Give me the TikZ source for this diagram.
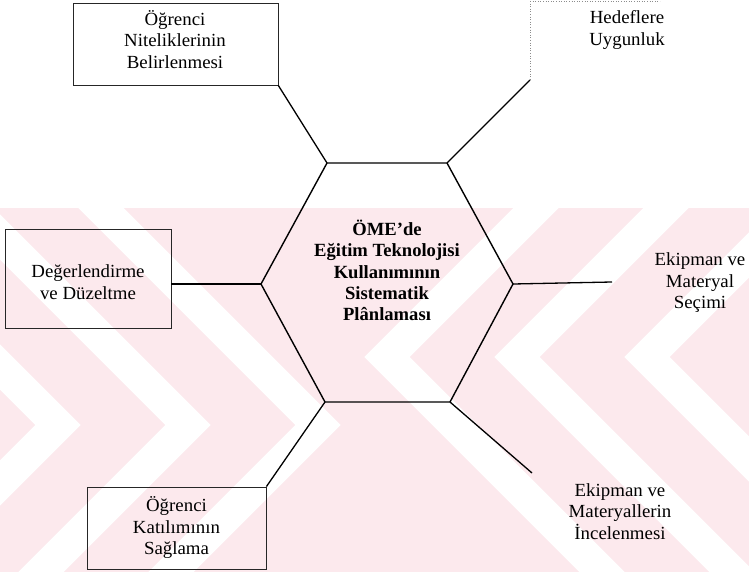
\documentclass[tikz,border=0pt]{standalone}
\usepackage{fontspec}
\setmainfont{Liberation Serif}
\newfontfamily\widerm[FakeStretch=1.02]{Liberation Serif}
\definecolor{wmpink}{RGB}{252,233,237}
\begin{document}
\begin{tikzpicture}[x=1pt,y=-1pt,
  lbl/.style={align=center,font=\widerm\fontsize{18.5}{21.5}\selectfont,inner sep=0pt},
  clbl/.style={align=center,font=\bfseries\fontsize{18.6}{21.25}\selectfont,inner sep=0pt},
  boxst/.style={draw=black!85,line width=0.8pt,inner sep=0pt},
  hexline/.style={line width=1.4pt,black,line join=miter},
  conn/.style={line width=1.3pt,black},
  faint/.style={black!45,line width=0.6pt,dotted},
  wmband/.style={white,line width=32pt,line join=miter,miter limit=10}]
\useasboundingbox (0,0) rectangle (749,572);
% watermark background: pale pink field with white chevron bands
\fill[wmpink] (0,208) rectangle (749,572);
\begin{scope}
  \clip (0,208) rectangle (749,572);
  % chevrons pointing right on the left half
  \foreach \a in {58,188,318}{
    \draw[wmband] (\a-400,25) -- (\a,425) -- (\a-400,825);
  }
  % chevrons pointing left on the right half
  \foreach \a in {387,517,647,777}{
    \draw[wmband] (\a+400,-43) -- (\a,357) -- (\a+400,757);
  }
\end{scope}

% hexagon vertices
\coordinate (hTL) at (327,163);
\coordinate (hTR) at (447,163);
\coordinate (hR)  at (513,284);
\coordinate (hBR) at (450,402);
\coordinate (hBL) at (325,402);
\coordinate (hL)  at (261,284);
\draw[hexline] (hTL) -- (hTR) -- (hR) -- (hBR) -- (hBL) -- (hL) -- cycle;
\node[clbl] (ctr) at (387,270.5) {ÖME’de\\Eğitim Teknolojisi\\Kullanımının\\Sistematik\\Plânlaması};

% boxes
\node[boxst,minimum width=205pt,minimum height=82pt] (b1) at (175.4,44) {};
\node[lbl] (b1t) at (175,39.5) {Öğrenci\\Niteliklerinin\\Belirlenmesi};
\node[boxst,minimum width=166pt,minimum height=99pt] (b2) at (88,278.5) {};
\node[lbl] (b2t) at (88,282) {Değerlendirme\\ve Düzeltme};
\node[boxst,minimum width=179pt,minimum height=82pt] (b3) at (176.5,528) {};
\node[lbl] (b3t) at (176.5,527.5) {Öğrenci\\Katılımının\\Sağlama};

% free labels
\node[lbl] (t1) at (627,30) {Hedeflere\\Uygunluk};
\node[lbl] (t2) at (700,283) {Ekipman ve\\Materyal\\Seçimi};
\node[lbl] (t3) at (620,511.5) {Ekipman ve\\Materyallerin\\İncelenmesi};

\coordinate (e1) at (530,80);
\coordinate (e2) at (612,282);
\coordinate (e3) at (532,473);

% connectors
\draw[conn] (b1.south east) -- (hTL);
\draw[conn] (hL -| b2.east) -- (hL);
\draw[conn] (b3.north east) -- (hBL);
\draw[conn] (hTR) -- (e1);
\draw[conn] (hR) -- (e2);
\draw[conn] (hBR) -- (e3);

% faint remains of box edges
\draw[faint] (530,1) -- (660,1);
\draw[faint] (530,1) -- (e1);
\end{tikzpicture}
\end{document}
